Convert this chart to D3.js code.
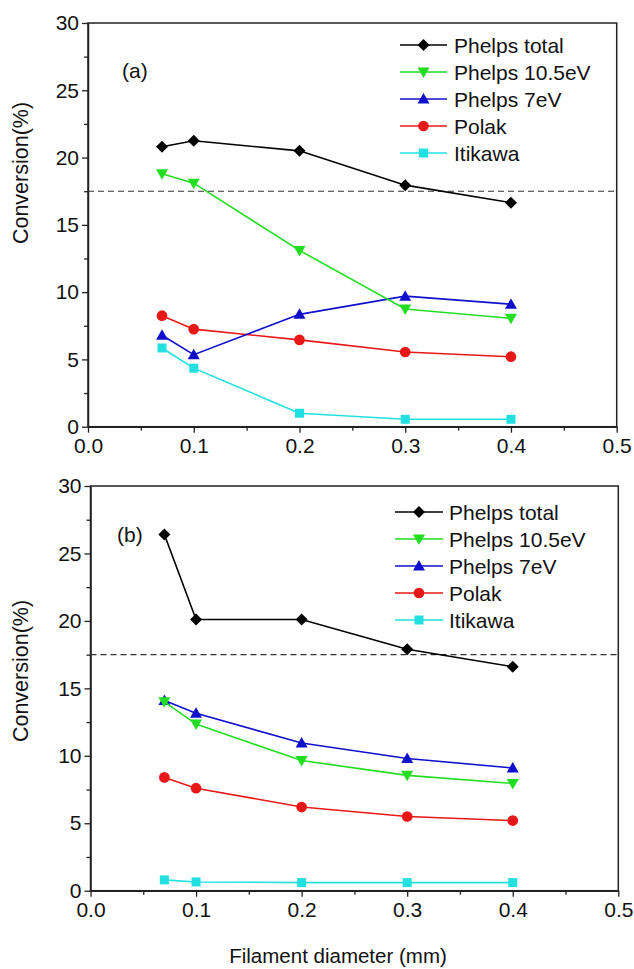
<!DOCTYPE html>
<html>
<head>
<meta charset="utf-8">
<script src="https://cdn.jsdelivr.net/npm/d3@7"></script>
<style>
  body { margin: 0; background: #fff; }
  svg text { font-family: Arial, "Liberation Sans", sans-serif; fill: #111; }
</style>
</head>
<body>
<svg id="chart" width="634" height="969"></svg>
<script>
// Filament diameters (mm)
const diameters = [0.07, 0.1, 0.2, 0.3, 0.4];

// Series names, colours and marker shapes
const seriesNames = ['Phelps total', 'Phelps 10.5eV', 'Phelps 7eV', 'Polak', 'Itikawa'];
const seriesColors = ['#000000', '#22dd22', '#1010cc', '#e81818', '#22e0e0'];
const seriesSymbols = ['diamond', 'triDown', 'triUp', 'circle', 'square'];

// Panel (a) conversion (%)
const aPhelpsTotal = [20.8, 21.25, 20.5, 17.95, 16.65];
const aPhelps105 = [18.8, 18.1, 13.1, 8.75, 8.05];
const aPhelps7 = [6.8, 5.35, 8.35, 9.7, 9.1];
const aPolak = [8.25, 7.25, 6.45, 5.55, 5.2];
const aItikawa = [5.85, 4.35, 1.0, 0.55, 0.55];

// Panel (b) conversion (%)
const bPhelpsTotal = [26.4, 20.1, 20.1, 17.9, 16.6];
const bPhelps105 = [14.0, 12.35, 9.65, 8.55, 7.95];
const bPhelps7 = [14.1, 13.15, 10.95, 9.8, 9.1];
const bPolak = [8.4, 7.6, 6.2, 5.5, 5.2];
const bItikawa = [0.8, 0.65, 0.6, 0.6, 0.6];

const xTicks = [0.0, 0.1, 0.2, 0.3, 0.4, 0.5];
const yTicks = [0, 5, 10, 15, 20, 25, 30];
const refLine = 17.5;

const svg = d3.select('#chart');

const panels = [
  { label: '(a)', series: [aPhelpsTotal, aPhelps105, aPhelps7, aPolak, aItikawa],
    left: 88, right: 616.7, top: 23, bottom: 426.7,
    labelPos: [122, 78], legend: { x1: 400, x2: 447, tx: 454, y0: 45 }, yTitleY: 173 },
  { label: '(b)', series: [bPhelpsTotal, bPhelps105, bPhelps7, bPolak, bItikawa],
    left: 90.5, right: 618.3, top: 486, bottom: 890.7,
    labelPos: [117, 542], legend: { x1: 395, x2: 443, tx: 449, y0: 512 }, yTitleY: 671 }
];

function symbolPath(kind) {
  switch (kind) {
    case 'diamond': return 'M0,-6L6,0L0,6L-6,0Z';
    case 'triUp': return 'M0,-6L6,4.5L-6,4.5Z';
    case 'triDown': return 'M0,6L6,-4.5L-6,-4.5Z';
    case 'square': return 'M-4.5,-4.5H4.5V4.5H-4.5Z';
    default: return d3.symbol(d3.symbolCircle, 90)();
  }
}

panels.forEach(p => {
  const x = d3.scaleLinear().domain([0, 0.5]).range([p.left, p.right]);
  const y = d3.scaleLinear().domain([0, 30]).range([p.bottom, p.top]);
  const g = svg.append('g');

  // frame (top & right)
  g.append('rect')
    .attr('x', p.left).attr('y', p.top)
    .attr('width', p.right - p.left).attr('height', p.bottom - p.top)
    .attr('fill', 'none').attr('stroke', '#222').attr('stroke-width', 1.5);

  // minor ticks
  const xMinor = d3.range(0.05, 0.5, 0.1);
  const yMinor = d3.range(2.5, 30, 5);
  g.append('g').attr('transform', `translate(0,${p.bottom})`)
    .call(d3.axisBottom(x).tickValues(xMinor).tickSize(4).tickFormat(''))
    .call(a => a.select('.domain').remove())
    .selectAll('line').attr('stroke', '#222').attr('stroke-width', 1.3);
  g.append('g').attr('transform', `translate(${p.left},0)`)
    .call(d3.axisLeft(y).tickValues(yMinor).tickSize(4).tickFormat(''))
    .call(a => a.select('.domain').remove())
    .selectAll('line').attr('stroke', '#222').attr('stroke-width', 1.3);

  // major axes
  const xa = g.append('g').attr('transform', `translate(0,${p.bottom})`)
    .call(d3.axisBottom(x).tickValues(xTicks).tickSize(6).tickSizeOuter(0).tickPadding(5).tickFormat(d3.format('.1f')));
  const ya = g.append('g').attr('transform', `translate(${p.left},0)`)
    .call(d3.axisLeft(y).tickValues(yTicks).tickSize(6).tickSizeOuter(0).tickPadding(3));
  [xa, ya].forEach(a => {
    a.select('.domain').attr('stroke', '#222').attr('stroke-width', 1.5);
    a.selectAll('line').attr('stroke', '#222').attr('stroke-width', 1.3);
    a.selectAll('text').attr('font-size', 21).attr('fill', '#111')
      .attr('font-family', 'Arial, "Liberation Sans", sans-serif');
  });

  // dashed reference line
  g.append('line')
    .attr('x1', p.left).attr('x2', p.right)
    .attr('y1', y(refLine)).attr('y2', y(refLine))
    .attr('stroke', '#333').attr('stroke-width', 1.1).attr('stroke-dasharray', '6,4');

  const line = d3.line().x((d, i) => x(diameters[i])).y(d => y(d));

  // draw in reverse so black sits on top
  p.series.map((vals, si) => ({ vals, si })).reverse().forEach(({ vals, si }) => {
    g.append('path').attr('d', line(vals))
      .attr('fill', 'none').attr('stroke', seriesColors[si]).attr('stroke-width', 1.6);
    g.selectAll(null).data(vals).enter().append('path')
      .attr('d', symbolPath(seriesSymbols[si]))
      .attr('transform', (d, i) => `translate(${x(diameters[i])},${y(d)})`)
      .attr('fill', seriesColors[si]);
  });

  // panel label
  g.append('text').attr('x', p.labelPos[0]).attr('y', p.labelPos[1])
    .attr('font-size', 21).text(p.label);

  // legend
  const lg = p.legend;
  seriesNames.forEach((name, si) => {
    const ly = lg.y0 + si * 27;
    g.append('line').attr('x1', lg.x1).attr('x2', lg.x2).attr('y1', ly).attr('y2', ly)
      .attr('stroke', seriesColors[si]).attr('stroke-width', 1.6);
    g.append('path').attr('d', symbolPath(seriesSymbols[si]))
      .attr('transform', `translate(${(lg.x1 + lg.x2) / 2},${ly})`)
      .attr('fill', seriesColors[si]);
    g.append('text').attr('x', lg.tx).attr('y', ly + 7.5)
      .attr('font-size', 21).text(name);
  });

  // y title
  g.append('text')
    .attr('transform', `translate(28,${p.yTitleY}) rotate(-90)`)
    .attr('text-anchor', 'middle').attr('font-size', 21.5)
    .text('Conversion(%)');
});

// x title
svg.append('text').attr('x', 338).attr('y', 963)
  .attr('text-anchor', 'middle').attr('font-size', 20.5)
  .text('Filament diameter (mm)');
</script>
</body>
</html>
